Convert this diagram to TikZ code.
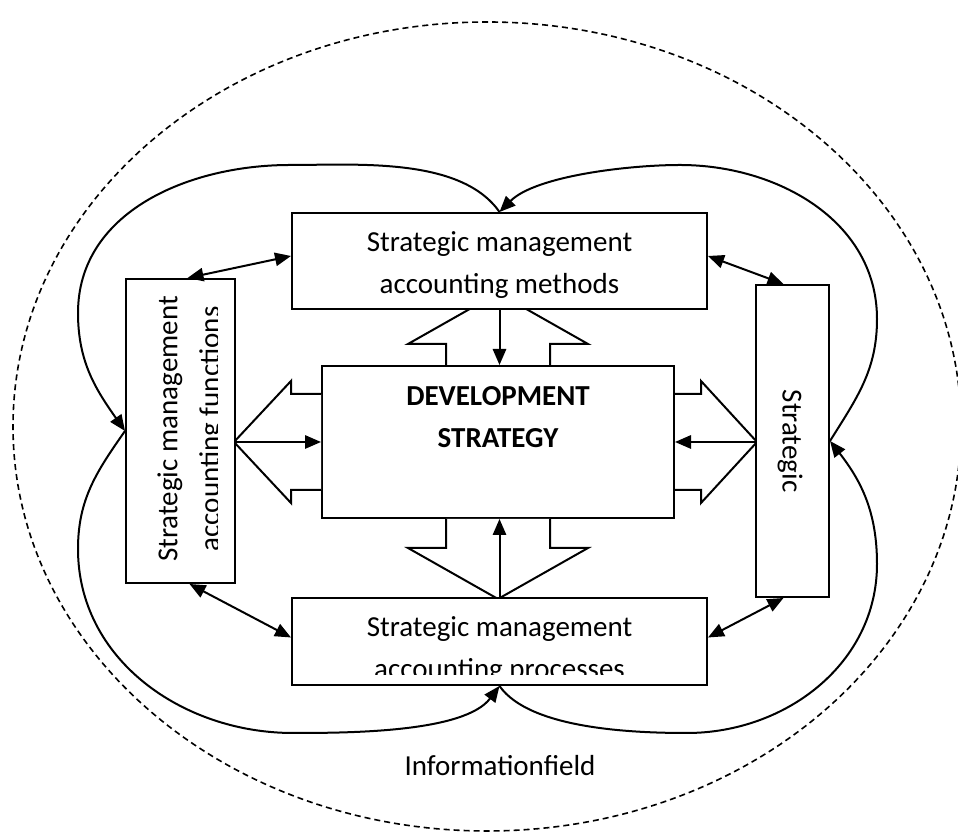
\documentclass[tikz,border=0pt]{standalone}
\usepackage{fontspec}
\setmainfont{Carlito}
\usepackage{tikz}
\usetikzlibrary{arrows.meta,calc,positioning}

\begin{document}
\begin{tikzpicture}[x=0.75pt, y=0.75pt, line width=1.5pt,
    box/.style={draw, fill=white, inner sep=0pt},
    txt/.style={font=\fontsize{21.75}{31.5}\selectfont, align=center, inner sep=0pt},
    link/.style={-{Triangle[length=12pt,width=10pt]}},
    both/.style={{Triangle[length=12pt,width=10pt]}-{Triangle[length=12pt,width=10pt]}},
    bigarrow/.style={draw, fill=white, line join=miter}]
    \useasboundingbox (0,0) rectangle (958,834);

    \draw[line width=1.2pt, dash pattern=on 4.5pt off 3pt] (487,407.5) ellipse [x radius=474, y radius=404.5];

    \coordinate (dev0) at (498,392);
    \node[box, minimum width=264pt, minimum height=114pt] (dev) at (dev0) {};

    \draw[bigarrow] ($(dev.north)+(-52,0)$) -- ++(0,21) -- ++(-38,0) -- ++(90,51) -- ++(90,-51) -- ++(-38,0) -- ++(0,-21);
    \draw[bigarrow] ($(dev.south)+(-52,0)$) -- ++(0,-29) -- ++(-38,0) -- ++(90,-51) -- ++(90,51) -- ++(-38,0) -- ++(0,29);
    \draw[bigarrow] ($(dev.west)+(0,48)$) -- ++(-30,0) -- ++(0,13) -- ++(-57,-61) -- ++(57,-61) -- ++(0,13) -- ++(30,0);
    \draw[bigarrow] ($(dev.east)+(0,48)$) -- ++(26,0) -- ++(0,13) -- ++(56,-61) -- ++(-56,-61) -- ++(0,13) -- ++(-26,0);

    \node[box, minimum width=311.25pt, minimum height=72pt] (methods) at (499.5,573) {};
    \node[box, minimum width=81.75pt, minimum height=228pt] (functions) at (180.5,403) {};
    \node[box, minimum width=54.75pt, minimum height=234pt] (strategic) at (792.5,393) {};
    \node[box, minimum width=311.25pt, minimum height=65.25pt] (processes) at (499.5,192.5) {};

    \node[txt] (methodstxt) at (499.5,569) {Strategic management\\accounting methods};
    \node[txt, font=\fontsize{21.75}{31}\selectfont\bfseries] (devtxt) at (498,417) {DEVELOPMENT\\STRATEGY};
    \node[txt, rotate=-90] (strattxt) at (790,393) {Strategic};
    \begin{scope}
        \clip (functions.south west) rectangle (217,555);
        \node[txt, rotate=90] (functxt) at (191,405) {Strategic management\\accounting functions};
    \end{scope}
    \begin{scope}
        \clip (processes.north west) rectangle (707,159);
        \node[txt] (proctxt) at (499.5,184) {Strategic management\\accounting processes};
    \end{scope}
    \node[txt] (infofield) at (500,68) {Informationfield};

    \draw[link] (methods.south) -- (methods.south |- dev.north);
    \draw[link] (processes.north) -- (processes.north |- dev.south);
    \draw[link] (dev.west -| functions.east) -- (dev.west);
    \draw[link] (dev.east -| strategic.west) -- (dev.east);

    \draw[both] ($(functions.north)+(7,0)$) -- ($(methods.west)+(0,5)$);
    \draw[both] ($(methods.east)+(0,5)$) -- ($(strategic.north)+(-9,0)$);
    \draw[both] ($(functions.south)+(9,0)$) -- ($(processes.west)+(0,4)$);
    \draw[both] ($(strategic.south)+(-9,0)$) -- ($(processes.east)+(0,4)$);

    \draw[link] (methods.north) to[out=125,in=0,looseness=0.8] (290,669) to[out=180,in=90] (78,521) to[out=-90,in=125] (functions.west);
    \draw[link] (strategic.east) to[out=58,in=-90] (877,515) to[out=90,in=0] (680,669) to[out=180,in=45,looseness=0.7] (methods.north);
    \draw[link] (functions.west) to[out=235,in=90] (78,285) to[out=-90,in=180] (293,101) to[out=0,in=233,looseness=0.7] (processes.south);
    \draw[link] (processes.south) to[out=-55,in=180,looseness=0.7] (687,101) to[out=0,in=-90] (877,270) to[out=90,in=-52] (strategic.east);
\end{tikzpicture}
\end{document}
